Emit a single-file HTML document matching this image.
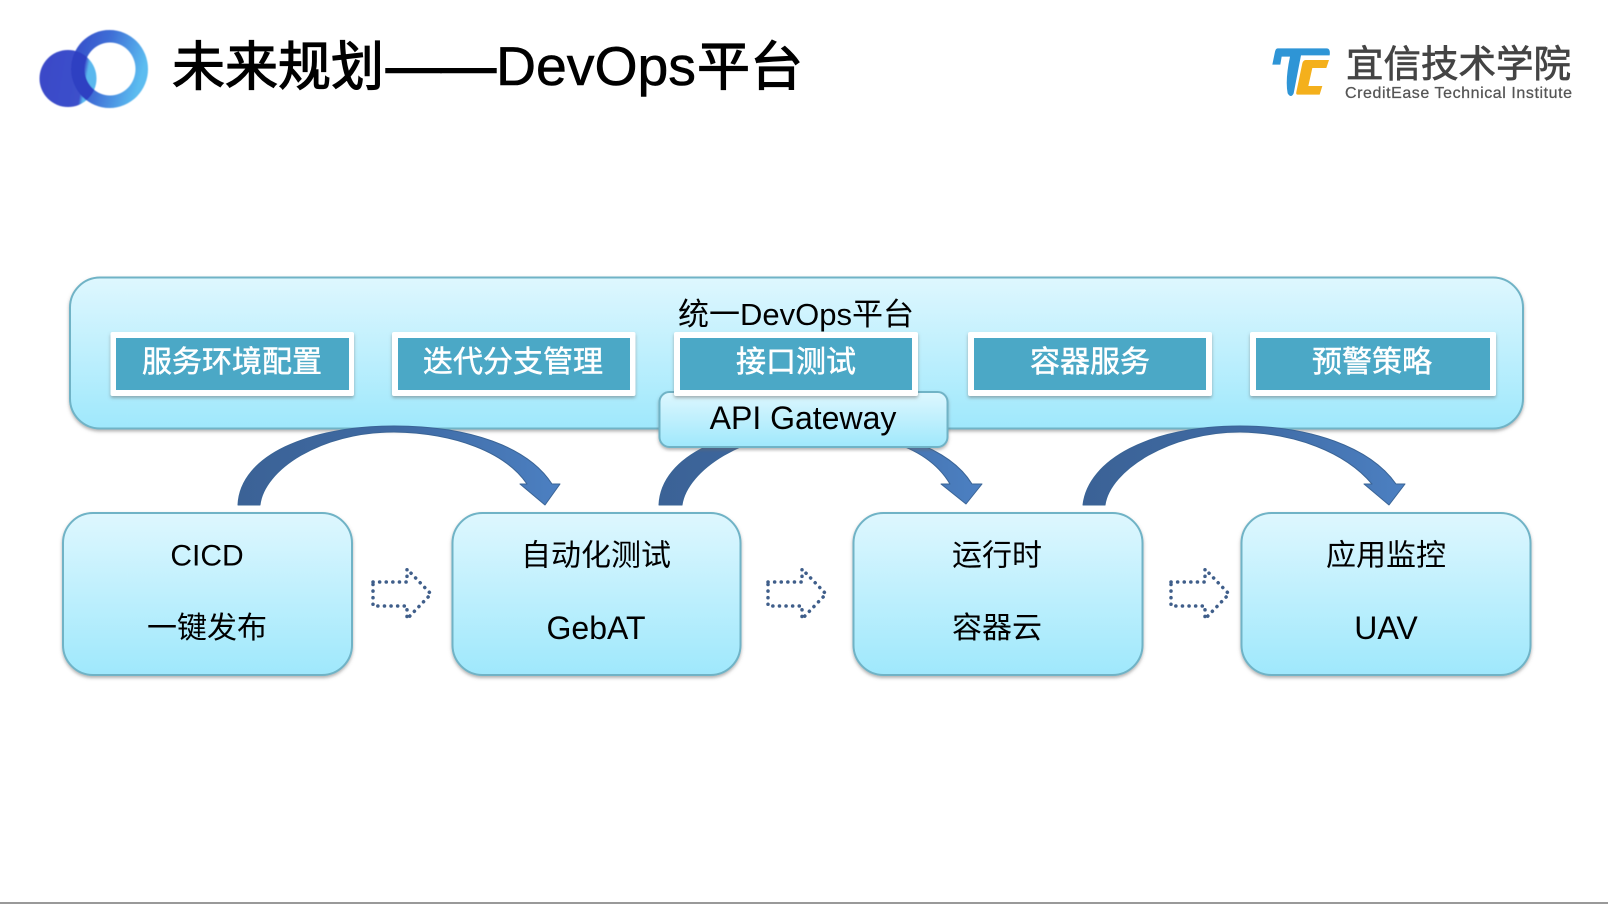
<!DOCTYPE html>
<html><head><meta charset="utf-8">
<style>
html,body{margin:0;padding:0;background:#fff;width:1608px;height:904px;overflow:hidden}
svg{display:block;position:absolute;left:0;top:0;filter:blur(.35px)}
text{font-family:"Liberation Sans","Noto Sans CJK SC",sans-serif}
</style></head>
<body>
<svg width="1608" height="904" viewBox="0 0 1608 904" xmlns="http://www.w3.org/2000/svg">
<defs>
<linearGradient id="g" x1="0" y1="0" x2="0" y2="1"><stop offset="0" stop-color="#def7fe"/><stop offset="1" stop-color="#9fe8fc"/></linearGradient>
<linearGradient id="ar" x1="0" y1="0" x2="1" y2="0"><stop offset="0" stop-color="#3b6296"/><stop offset=".5" stop-color="#3f6aa3"/><stop offset="1" stop-color="#4c80c2"/></linearGradient>
<linearGradient id="ring" x1="0" y1="0" x2="1" y2=".3"><stop offset="0" stop-color="#3347c6"/><stop offset=".5" stop-color="#3f6fd6"/><stop offset="1" stop-color="#5bbcf0"/></linearGradient>
<linearGradient id="ball" gradientUnits="userSpaceOnUse" x1="40" y1="70" x2="97" y2="80"><stop offset="0" stop-color="#3a49c8"/><stop offset=".75" stop-color="#3c50cb"/><stop offset=".82" stop-color="#5ab8ee"/><stop offset="1" stop-color="#5ab8ee"/></linearGradient>
<filter id="sh" x="-5%" y="-5%" width="110%" height="115%"><feDropShadow dx="0" dy="2" stdDeviation="1.5" flood-color="#666" flood-opacity=".5"/></filter>
<filter id="b"><feGaussianBlur stdDeviation=".45"/></filter>
<clipPath id="ballclip"><ellipse cx="68" cy="78.5" rx="28.5" ry="28.5"/></clipPath>
</defs>

<!-- logo left -->
<g filter="url(#b)">
<ellipse cx="68" cy="78.5" rx="28.5" ry="28.5" fill="url(#ball)"/>
<path fill-rule="evenodd" fill="url(#ring)" d="M71 69a38.5 39 0 1 0 77 0a38.5 39 0 1 0 -77 0zM84.5 69a25.5 26.5 0 1 1 51 0a25.5 26.500 0 1 1 -51 0z"/>
<path clip-path="url(#ballclip)" fill-rule="evenodd" fill="#2f40c2" d="M71 69a38.5 39 0 1 0 77 0a38.5 39 0 1 0 -77 0zM84.5 69a25.5 26.5 0 1 1 51 0a25.5 26.500 0 1 1 -51 0z"/>
</g>
<text x="172" y="85" font-size="53" fill="#000" stroke="#000" stroke-width="1.200">未来规划</text>
<text x="386" y="85" font-size="56" fill="#000" stroke="#000" stroke-width="1.500" textLength="110" lengthAdjust="spacingAndGlyphs">——</text>
<text x="496" y="85" font-size="55" fill="#000" stroke="#000" stroke-width=".6" textLength="200" lengthAdjust="spacingAndGlyphs">DevOps</text>
<text x="697" y="85" font-size="53" fill="#000" stroke="#000" stroke-width="1.200">平台</text>

<!-- logo right -->
<g transform="translate(1265 40) scale(.3333)" filter="url(#b)">
<path fill="#2f95d6" d="M38 25 H185 Q197 25 194 46 H108 L86 160 Q78 176 68 160 Q60 120 75 50 H50 L46 74 H22 L30 35 Q32 25 38 25 Z"/>
<path fill="#f4b01a" d="M122 60 H192 L184 84 H142 L130 138 H172 L164 164 H98 Q92 164 94 156 L112 70 Q115 60 122 60 Z"/>
</g>
<text x="1346" y="77" font-size="37.500" fill="#444" stroke="#444" stroke-width=".7">宜信技术学院</text>
<text x="1345" y="98" font-size="16" fill="#555" stroke="#555" stroke-width=".25" textLength="227" lengthAdjust="spacing">CreditEase Technical Institute</text>

<!-- panel -->
<rect x="70" y="277.500" width="1453" height="151" rx="30" fill="url(#g)" stroke="#6fb3c6" stroke-width="2" filter="url(#sh)"/>
<text x="796" y="325" font-size="31" fill="#000" text-anchor="middle">统一DevOps平台</text>

<!-- arrows -->
<g stroke="#3a6496" stroke-width="1" stroke-linejoin="round">
<path fill="url(#ar)" d="M238 505 C240 455 310 426 394 426 C470 426 528 447 552 484 L560 484 L545 505 L520 484 L527 484 C505 452 455 433 394 432 C320 432 264 470 260 505 Z"/>
<path fill="url(#ar)" d="M1083 505 C1088 460 1150 426 1240 426 C1310 426 1370 447 1396 484 L1405 484 L1389 505 L1364 484 L1372 484 C1345 452 1295 433 1240 432 C1170 432 1110 470 1105 505 Z"/>
<path fill="url(#ar)" d="M659 505 C661 455 730 426 812 426 C890 426 950 448 972 484 L982 484 L966 504 L941 484 L950 484 C930 450 885 432 812 432 C745 432 687 470 682 505 Z"/>
</g>

<!-- API gateway -->
<rect x="659.500" y="392" width="288" height="55" rx="10" fill="url(#g)" stroke="#6fb3c6" stroke-width="2" filter="url(#sh)"/>
<text x="803" y="429" font-size="32" fill="#000" text-anchor="middle">API Gateway</text>

<!-- cards -->
<g filter="url(#sh)" fill="#fff">
<rect x="110.500" y="332" width="243.500" height="64" rx="2"/>
<rect x="392" y="332" width="243.500" height="64" rx="2"/>
<rect x="674" y="332" width="244" height="64" rx="2"/>
<rect x="968" y="332" width="244" height="64" rx="2"/>
<rect x="1250" y="332" width="246" height="64" rx="2"/>
</g>
<g fill="#4ba8c6">
<rect x="116" y="338" width="233" height="52"/>
<rect x="398" y="338" width="232" height="52"/>
<rect x="680" y="338" width="232" height="52"/>
<rect x="974" y="338" width="232" height="52"/>
<rect x="1256" y="338" width="234" height="52"/>
</g>
<g font-size="30" fill="#fff" text-anchor="middle" stroke="#fff" stroke-width=".5">
<text x="232" y="372">服务环境配置</text>
<text x="513" y="372">迭代分支管理</text>
<text x="796" y="372">接口测试</text>
<text x="1090" y="372">容器服务</text>
<text x="1372" y="372">预警策略</text>
</g>

<!-- lower boxes -->
<g fill="url(#g)" stroke="#6fb3c6" stroke-width="2" filter="url(#sh)">
<rect x="63" y="513" width="289" height="162" rx="30"/>
<rect x="452.500" y="513" width="288" height="162" rx="30"/>
<rect x="853.500" y="513" width="289" height="162" rx="30"/>
<rect x="1241.500" y="513" width="289" height="162" rx="30"/>
</g>
<g font-size="30" fill="#000" text-anchor="middle">
<text x="207" y="565.500">CICD</text><text x="207" y="638">一键发布</text>
<text x="596" y="565.500">自动化测试</text><text x="596" y="639" font-size="32">GebAT</text>
<text x="997" y="565.500">运行时</text><text x="997" y="638">容器云</text>
<text x="1386" y="565.500">应用监控</text><text x="1386" y="639" font-size="32">UAV</text>
</g>

<!-- dotted arrows -->
<g fill="none" stroke="#3f5e8a" stroke-width="3.500" stroke-dasharray=".1 6.500" stroke-linecap="round" stroke-linejoin="round">
<path d="M373 582 H407 V569 L431 594 L407 619 V606 H373 Z"/>
<path d="M768 582 H802 V569 L826 594 L802 619 V606 H768 Z"/>
<path d="M1171 582 H1205 V569 L1229 594 L1205 619 V606 H1171 Z"/>
</g>

<rect x="0" y="902" width="1608" height="2" fill="#999"/>
</svg>
</body></html>
